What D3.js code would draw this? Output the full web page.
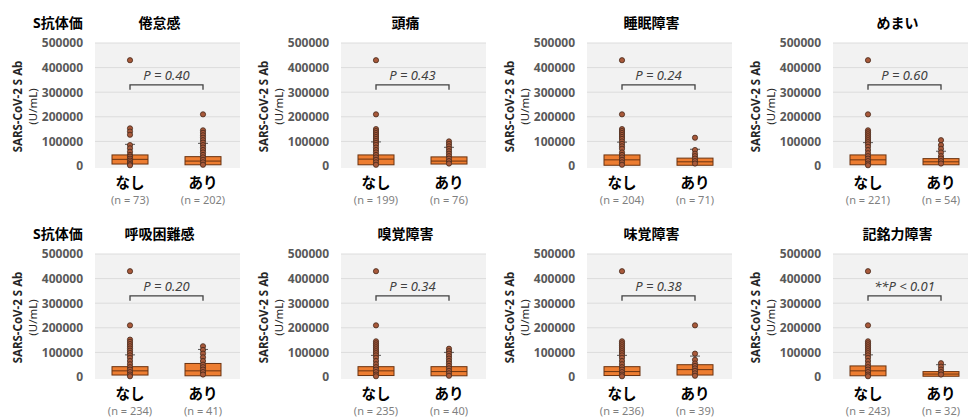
<!DOCTYPE html>
<html>
<head>
<meta charset="utf-8">
<script src="https://cdn.jsdelivr.net/npm/d3@7"></script>
<style>
  body { margin: 0; background: #fff; }
  svg { font-family: "Noto Sans", "Noto Sans CJK JP", sans-serif; }
</style>
</head>
<body>
<svg id="chart" width="968" height="419"></svg>
<script>
const symptoms = ['倦怠感', '頭痛', '睡眠障害', 'めまい', '呼吸困難感', '嗅覚障害', '味覚障害', '記銘力障害'];
const groups = ['なし', 'あり'];
const nNone = [73, 199, 204, 221, 234, 235, 236, 243];
const nYes = [202, 76, 71, 54, 41, 40, 39, 32];
const pLabels = ['P = 0.40', 'P = 0.43', 'P = 0.24', 'P = 0.60', 'P = 0.20', 'P = 0.34', 'P = 0.38', '**P < 0.01'];
const yTicks = [0, 100000, 200000, 300000, 400000, 500000];

// [min, q1, median, q3, upper whisker]
const boxNone = [
  [0, 8000, 27000, 45000, 88000],
  [0, 5000, 28000, 45000, 98000],
  [0, 3000, 25000, 45000, 97000],
  [0, 5000, 25000, 45000, 95000],
  [0, 8000, 25000, 42000, 90000],
  [0, 6000, 25000, 42000, 88000],
  [0, 6000, 22000, 42000, 88000],
  [0, 5000, 25000, 45000, 90000]
];
const boxYes = [
  [0, 5000, 20000, 38000, 92000],
  [0, 8000, 20000, 37000, 76000],
  [0, 3000, 17000, 32000, 68000],
  [0, 5000, 17000, 30000, 60000],
  [0, 5000, 25000, 55000, 112000],
  [0, 5000, 22000, 42000, 100000],
  [0, 8000, 30000, 50000, 85000],
  [0, 3000, 12000, 22000, 50000]
];

const dotsNone = [
  [430000, 153000, 140000, 127000, 85000, 72000, 58000, 45000, 38000, 30000, 22000, 15000, 8000, 3000],
  [430000, 210000, 150000, 142000, 134000, 126000, 118000, 110000, 102000, 94000, 86000, 75000, 65000, 55000, 45000, 35000, 25000, 15000, 5000],
  [430000, 210000, 150000, 142000, 134000, 126000, 118000, 110000, 100000, 90000, 80000, 70000, 55000, 45000, 35000, 25000, 15000, 5000],
  [430000, 210000, 145000, 137000, 129000, 121000, 113000, 105000, 97000, 88000, 78000, 65000, 52000, 40000, 30000, 20000, 10000, 3000],
  [430000, 210000, 152000, 143000, 134000, 125000, 116000, 107000, 98000, 88000, 78000, 65000, 52000, 40000, 30000, 20000, 10000, 3000],
  [430000, 210000, 145000, 137000, 129000, 121000, 113000, 105000, 97000, 88000, 78000, 65000, 52000, 40000, 30000, 20000, 10000, 3000],
  [430000, 145000, 137000, 129000, 121000, 113000, 105000, 97000, 88000, 78000, 65000, 52000, 40000, 30000, 20000, 10000, 3000],
  [430000, 210000, 145000, 137000, 129000, 121000, 113000, 105000, 97000, 88000, 78000, 65000, 52000, 40000, 30000, 20000, 10000, 3000]
];
const dotsYes = [
  [210000, 145000, 135000, 125000, 115000, 105000, 95000, 85000, 75000, 65000, 55000, 45000, 35000, 25000, 15000, 5000],
  [100000, 90000, 80000, 70000, 60000, 50000, 40000, 30000, 20000, 10000],
  [115000, 65000, 50000, 40000, 30000, 20000, 10000],
  [105000, 85000, 70000, 55000, 40000, 30000, 20000, 10000],
  [125000, 110000, 95000, 80000, 65000, 50000, 40000, 30000, 20000, 10000],
  [115000, 105000, 95000, 85000, 75000, 65000, 55000, 45000, 35000, 25000, 15000, 5000],
  [210000, 95000, 70000, 55000, 45000, 35000, 25000, 15000, 5000],
  [56000, 42000, 30000, 20000, 10000]
];

const PANEL_W = 246;
const PANEL_H = 211;
const PLOT = { left: 95, right: 240, top: 43, bottom: 166 };
const BOX_W = 36;

const $svg = d3.select('#chart');

const y = d3.scaleLinear().domain([0, 500000]).range([PLOT.bottom, PLOT.top]);
const x = d3.scalePoint().domain(groups).range([130, 203]);

symptoms.forEach((name, i) => {
  const col = i % 4;
  const row = Math.floor(i / 4);
  const $g = $svg.append('g')
    .attr('transform', `translate(${col * PANEL_W},${row * PANEL_H})`);

  // plot background + grid
  $g.append('rect')
    .attr('x', PLOT.left)
    .attr('y', y(500000))
    .attr('width', PLOT.right - PLOT.left)
    .attr('height', y(0) - y(500000) + 2)
    .attr('fill', '#f2f2f2');

  $g.selectAll('line.grid')
    .data(yTicks.filter(d => d > 0))
    .enter().append('line')
    .attr('class', 'grid')
    .attr('x1', PLOT.left)
    .attr('x2', PLOT.right)
    .attr('y1', d => y(d))
    .attr('y2', d => y(d))
    .attr('stroke', '#dcdcdc')
    .attr('stroke-width', 1);

  const axisY = d3.axisLeft(y)
    .tickValues(yTicks)
    .tickSize(0)
    .tickPadding(12)
    .tickFormat(d3.format('d'));

  const $axis = $g.append('g')
    .attr('transform', `translate(${PLOT.left},0)`)
    .call(axisY);
  $axis.select('.domain').remove();
  $axis.selectAll('text')
    .attr('font-size', 12)
    .attr('font-weight', 'bold')
    .attr('fill', '#595959')
    .attr('font-family', '"Noto Sans", sans-serif');

  // y axis title
  const midY = (PLOT.top + PLOT.bottom) / 2 + 2;
  $g.append('text')
    .attr('transform', `translate(22,${midY}) rotate(-90)`)
    .attr('text-anchor', 'middle')
    .attr('font-size', 11.5)
    .attr('font-weight', 'bold')
    .attr('fill', '#262626')
    .text('SARS-CoV-2 S Ab');
  $g.append('text')
    .attr('transform', `translate(37,${midY}) rotate(-90)`)
    .attr('text-anchor', 'middle')
    .attr('font-size', 11.5)
    .attr('fill', '#262626')
    .text('(U/mL)');

  // titles
  if (col === 0) {
    $g.append('text')
      .attr('x', 33)
      .attr('y', 28)
      .attr('font-size', 14)
      .attr('font-weight', 'bold')
      .attr('fill', '#000')
      .text('S抗体価');
  }
  $g.append('text')
    .attr('x', (PLOT.left + PLOT.right) / 2 - 8)
    .attr('y', 28)
    .attr('text-anchor', 'middle')
    .attr('font-size', 14)
    .attr('font-weight', 'bold')
    .attr('fill', '#000')
    .text(name);

  // category labels
  const counts = [nNone[i], nYes[i]];
  groups.forEach((grp, k) => {
    $g.append('text')
      .attr('x', x(grp))
      .attr('y', 188)
      .attr('text-anchor', 'middle')
      .attr('font-size', 14.5)
      .attr('font-weight', 'bold')
      .attr('fill', '#000')
      .text(grp);
    $g.append('text')
      .attr('x', x(grp))
      .attr('y', 204)
      .attr('text-anchor', 'middle')
      .attr('font-size', 11)
      .attr('fill', '#7f7f7f')
      .text(`(n = ${counts[k]})`);
  });

  // boxes
  const stats = [boxNone[i], boxYes[i]];
  const dots = [dotsNone[i], dotsYes[i]];
  groups.forEach((grp, k) => {
    const [mn, q1, med, q3, hi] = stats[k];
    const cx = x(grp);
    const $b = $g.append('g').attr('class', 'box');

    $b.append('line')
      .attr('x1', cx).attr('x2', cx)
      .attr('y1', y(q3)).attr('y2', y(hi))
      .attr('stroke', '#595959').attr('stroke-width', 1);
    $b.append('line')
      .attr('x1', cx - 5).attr('x2', cx + 5)
      .attr('y1', y(hi)).attr('y2', y(hi))
      .attr('stroke', '#595959').attr('stroke-width', 1);
    $b.append('line')
      .attr('x1', cx).attr('x2', cx)
      .attr('y1', y(q1)).attr('y2', y(mn))
      .attr('stroke', '#595959').attr('stroke-width', 1);

    $b.append('rect')
      .attr('x', cx - BOX_W / 2)
      .attr('y', y(q3))
      .attr('width', BOX_W)
      .attr('height', y(q1) - y(q3))
      .attr('fill', '#ed7d31')
      .attr('stroke', '#6b3310')
      .attr('stroke-width', 1);
    $b.append('line')
      .attr('x1', cx - BOX_W / 2).attr('x2', cx + BOX_W / 2)
      .attr('y1', y(med)).attr('y2', y(med))
      .attr('stroke', '#6b3310').attr('stroke-width', 1);

    $b.selectAll('circle')
      .data(dots[k])
      .enter().append('circle')
      .attr('cx', cx)
      .attr('cy', d => y(d))
      .attr('r', 2.6)
      .attr('fill', '#a8593a')
      .attr('stroke', '#45281a')
      .attr('stroke-width', 0.8);
  });

  // significance bracket
  const by = y(330000);
  $g.append('path')
    .attr('d', `M${x('なし')},${by + 5}V${by}H${x('あり')}V${by + 5}`)
    .attr('fill', 'none')
    .attr('stroke', '#404040')
    .attr('stroke-width', 1.3);
  $g.append('text')
    .attr('x', (x('なし') + x('あり')) / 2)
    .attr('y', y(370000) + 5)
    .attr('text-anchor', 'middle')
    .attr('font-size', 13)
    .attr('font-style', 'italic')
    .attr('fill', '#404040')
    .text(pLabels[i]);
});
</script>
</body>
</html>
